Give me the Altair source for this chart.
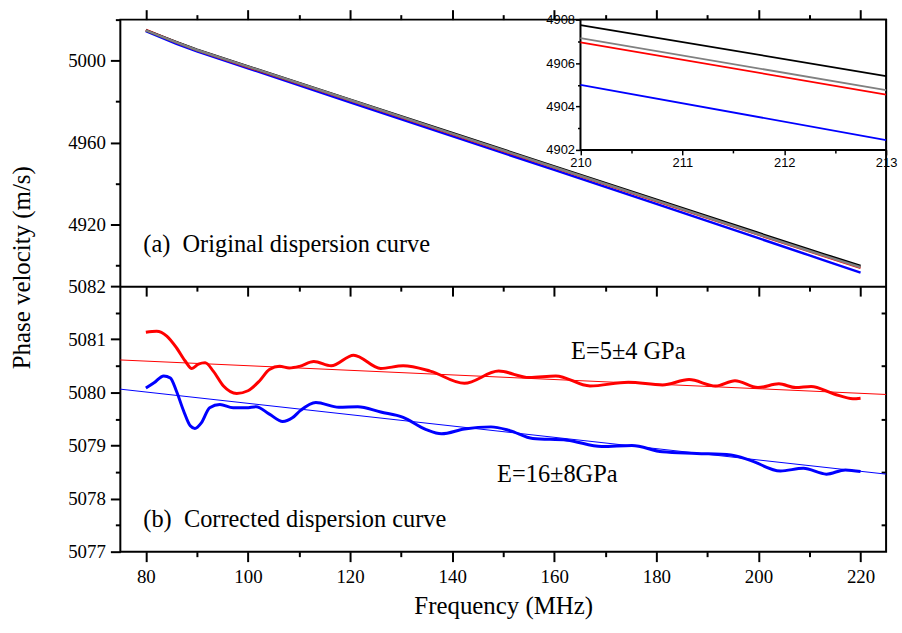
import altair as alt
import pandas as pd

# ---------------- data ----------------
# (a) original dispersion curves
top_freq = [80, 86, 90, 100, 120, 140, 160, 180, 200, 210, 213, 220]
top_black = [5014.8, 5009.0, 5005.3, 4997.2, 4981.0, 4964.7, 4948.4, 4932.2, 4915.9, 4907.75, 4905.4, 4899.9]
top_gray = [5014.8, 5008.9, 5005.2, 4997.1, 4980.8, 4964.4, 4948.0, 4931.7, 4915.3, 4907.15, 4904.75, 4899.2]
top_red = [5015.0, 5008.9, 5005.1, 4996.9, 4980.6, 4964.2, 4947.8, 4931.5, 4915.1, 4906.95, 4904.55, 4899.0]
top_blue = [5014.4, 5008.2, 5004.5, 4996.3, 4979.7, 4963.2, 4946.7, 4930.1, 4913.4, 4905.0, 4902.45, 4896.6]

# (b) corrected dispersion curves
red_freq = [80, 82.1, 84.1, 86.0, 87.7, 89.0, 90.3, 91.6, 93.2, 95.2, 97.8, 100, 102.3, 104.2, 106.2,
            108.1, 110.1, 112.9, 116.3, 120.7, 126.0, 130.4, 135.7, 142.4, 149.1, 155.1, 160.3, 167.0,
            174.5, 181.2, 186.4, 191.6, 195.4, 199.9, 204.0, 207.3, 210.3, 214.8, 218.5, 220]
red_vel = [5081.13, 5081.15, 5081.06, 5080.84, 5080.59, 5080.45, 5080.53, 5080.56, 5080.40, 5080.12,
           5079.98, 5080.03, 5080.22, 5080.43, 5080.49, 5080.46, 5080.49, 5080.58, 5080.50, 5080.70,
           5080.45, 5080.50, 5080.40, 5080.17, 5080.40, 5080.28, 5080.31, 5080.12, 5080.19, 5080.14,
           5080.24, 5080.12, 5080.22, 5080.09, 5080.16, 5080.09, 5080.11, 5079.97, 5079.88, 5079.89]
blue_freq = [80, 81.6, 83.5, 84.8, 86.0, 87.4, 88.7, 89.6, 90.9, 92.5, 94.5, 97.1, 99.7, 101.6, 104.2,
             106.8, 108.7, 110.3, 113.3, 117.8, 121.5, 126.0, 130.4, 134.9, 137.9, 142.4, 147.6, 151.3,
             155.8, 162.5, 169.3, 175.2, 181.2, 187.9, 194.6, 198.4, 204.3, 208.8, 213.3, 217.0, 220]
blue_vel = [5080.08, 5080.18, 5080.31, 5080.27, 5080.02, 5079.65, 5079.37, 5079.32, 5079.43, 5079.71,
            5079.77, 5079.71, 5079.71, 5079.73, 5079.59, 5079.45, 5079.52, 5079.66, 5079.81, 5079.72,
            5079.73, 5079.63, 5079.53, 5079.30, 5079.22, 5079.31, 5079.35, 5079.28, 5079.13, 5079.10,
            5078.98, 5079.00, 5078.88, 5078.85, 5078.82, 5078.72, 5078.52, 5078.57, 5078.46, 5078.54, 5078.51]
fit_freq = [75, 225]
red_fit = [5080.61, 5079.96]
blue_fit = [5080.06, 5078.46]

# annotations
label_a = ["(a)\u00a0 Original dispersion curve"]
label_a_pos = [79.5, 4910.0]
label_b = ["(b)\u00a0 Corrected dispersion curve"]
label_b_pos = [79.5, 5077.59]
label_e_red = ["E=5\u00b14 GPa"]
label_e_red_pos = [174.5, 5080.76]
label_e_blue = ["E=16\u00b18GPa"]
label_e_blue_pos = [160.6, 5078.44]

# ticks
x_major = [80, 100, 120, 140, 160, 180, 200, 220]
x_minor = [90, 110, 130, 150, 170, 190, 210]
ytop_major = [4920, 4960, 5000]
ytop_minor = [4900, 4940, 4980, 5020]
ybot_major = [5077, 5078, 5079, 5080, 5081, 5082]
ybot_minor = [5077.5, 5078.5, 5079.5, 5080.5, 5081.5]
ybot_right = [5077.5, 5078, 5078.5, 5079, 5079.5, 5080, 5080.5, 5081, 5081.5]
xins_major = [210, 211, 212, 213]
xins_minor = [210.5, 211.5, 212.5]
yins_major = [4902, 4904, 4906, 4908]
yins_minor = [4903, 4905, 4907]

# ---------------- layout ----------------
W, H, TOP_H = 770, 535, 268
INS_X0, INS_H = 462.7, 131
SERIF = "Liberation Serif"
SANS = "Liberation Sans"


def sc(domain, rng):
    return alt.Scale(domain=domain, range=rng, nice=False, zero=False)


def x_main():
    return sc([75, 225], [0, W])


def y_top():
    return sc([4890, 5020], [TOP_H, 0])


def y_bot():
    return sc([5077, 5082], [H, TOP_H])


def x_ins():
    return sc([210, 213], [INS_X0, W])


def y_ins():
    return sc([4902, 4908], [INS_H, 0])


def ax(orient, values, size, labels=False, **kw):
    kw.setdefault("title", None)
    kw.setdefault("labelFont", SERIF)
    kw.setdefault("labelFontSize", 19)
    kw.setdefault("titleFont", SERIF)
    kw.setdefault("titleFontSize", 25)
    kw.setdefault("tickWidth", 2)
    kw.setdefault("domain", False)
    return alt.Axis(orient=orient, values=values, tickSize=size, labels=labels, format="d",
                    grid=False, labelColor="black", tickColor="black", titleColor="black",
                    titleFontWeight="normal", labelFlush=False, labelOverlap=False, **kw)


def df_xy(f, v):
    return pd.DataFrame({"f": f, "v": v})


def line(f, v, color, width, xs, ys, xa=None, ya=None, interp=None, filt=None):
    ch = alt.Chart(df_xy(f, v))
    if filt:
        ch = ch.transform_filter(filt)
    mk = dict(color=color, strokeWidth=width)
    if interp:
        mk["interpolate"] = interp
    return ch.mark_line(**mk).encode(
        x=alt.X("f:Q", scale=xs, axis=xa),
        y=alt.Y("v:Q", scale=ys, axis=ya),
    )


def label(txt, pos, xs, ys, align):
    return (
        alt.Chart(pd.DataFrame({"f": [pos[0]], "v": [pos[1]], "t": txt}))
        .mark_text(align=align, baseline="middle", font=SERIF, fontSize=24.5, color="black")
        .encode(x=alt.X("f:Q", scale=xs, axis=None),
                y=alt.Y("v:Q", scale=ys, axis=None), text="t:N")
    )


layers = []

# ---- top panel ----
layers.append(line(top_freq, top_blue, "#0000ff", 2.5, x_main(), y_top(),
                   xa=ax("top", x_major, 10),
                   ya=ax("left", ytop_major, 10, labels=True, labelPadding=5,
                         title="Phase velocity (m/s)", titleX=-99, titleY=249,
                         titleAngle=270, titleAlign="center", titleBaseline="middle")))
layers.append(line(top_freq, top_red, "#ff0000", 2.5, x_main(), y_top(),
                   xa=ax("top", x_minor, 5), ya=ax("left", ytop_minor, 5)))
layers.append(line(top_freq, top_black, "#000000", 2.5, x_main(), y_top(),
                   xa=ax("bottom", x_major, 10, domain=True, domainWidth=2, domainColor="black",
                         offset=-(H - TOP_H))))
layers.append(line(top_freq, top_gray, "#808080", 2.5, x_main(), y_top(),
                   xa=ax("bottom", x_minor, 5, offset=-(H - TOP_H))))
layers.append(label(label_a, label_a_pos, x_main(), y_top(), "left"))

# ---- bottom panel ----
layers.append(line(fit_freq, red_fit, "#ff0000", 1, x_main(), y_bot(),
                   xa=ax("bottom", x_major, 10, labels=True, labelPadding=6,
                         title="Frequency (MHz)", titlePadding=7),
                   ya=ax("left", ybot_major, 10, labels=True, labelPadding=5)))
layers.append(line(fit_freq, blue_fit, "#0000ff", 1, x_main(), y_bot(),
                   xa=ax("bottom", x_minor, 5), ya=ax("left", ybot_minor, 5)))
layers.append(line(red_freq, red_vel, "#ff0000", 3, x_main(), y_bot(), interp="monotone",
                   ya=ax("left", ybot_right, 5, offset=-W)))
layers.append(line(blue_freq, blue_vel, "#0000ff", 3, x_main(), y_bot(), interp="monotone"))
layers.append(label(label_b, label_b_pos, x_main(), y_bot(), "left"))
layers.append(label(label_e_red, label_e_red_pos, x_main(), y_bot(), "center"))
layers.append(label(label_e_blue, label_e_blue_pos, x_main(), y_bot(), "center"))

# ---- inset ----
ins_frame = pd.DataFrame({"f": [210], "f2": [213], "v": [4902], "v2": [4908]})
layers.append(
    alt.Chart(ins_frame).mark_rect(fill="white", stroke="black", strokeWidth=2).encode(
        x=alt.X("f:Q", scale=x_ins(),
                axis=ax("bottom", xins_major, 5, labels=True, offset=-(H - INS_H),
                        labelFont=SANS, labelFontSize=13, labelPadding=2, tickWidth=1.5)),
        x2="f2:Q",
        y=alt.Y("v:Q", scale=y_ins(),
                axis=ax("left", yins_major, 5, labels=True, offset=-INS_X0,
                        labelFont=SANS, labelFontSize=13, labelPadding=1, tickWidth=1.5)),
        y2="v2:Q",
    )
)
filt = "datum.f >= 210 && datum.f <= 213"
layers.append(line(top_freq, top_black, "#000000", 1.8, x_ins(), y_ins(), filt=filt,
                   xa=ax("bottom", xins_minor, 3, offset=-(H - INS_H), tickWidth=1.5),
                   ya=ax("left", yins_minor, 3, offset=-INS_X0, tickWidth=1.5)))
layers.append(line(top_freq, top_gray, "#808080", 1.8, x_ins(), y_ins(), filt=filt))
layers.append(line(top_freq, top_red, "#ff0000", 1.8, x_ins(), y_ins(), filt=filt))
layers.append(line(top_freq, top_blue, "#0000ff", 1.8, x_ins(), y_ins(), filt=filt))

chart = (
    alt.layer(*layers)
    .resolve_scale(x="independent", y="independent")
    .properties(width=W, height=H, padding={"left": 10, "top": 7, "right": 5, "bottom": 5},
                background="white")
    .configure_view(stroke="black", strokeWidth=2)
    .configure_axis(zindex=1)
)

chart.save("out.html", embed_options={"renderer": "svg", "actions": False})
